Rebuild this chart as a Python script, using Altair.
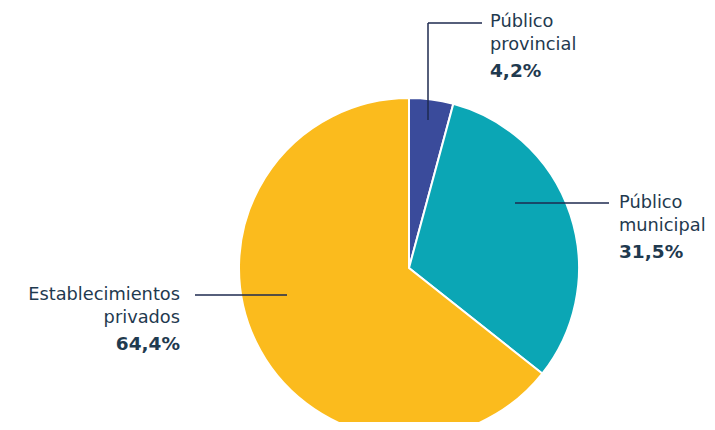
import altair as alt
import pandas as pd

categories = ["Público provincial", "Público municipal", "Establecimientos privados"]
values = [4.2, 31.5, 64.4]
name_labels = ["Público\nprovincial", "Público\nmunicipal", "Establecimientos\nprivados"]
pct_labels = ["4,2%", "31,5%", "64,4%"]
colors = ["#3a4b9b", "#0ba6b5", "#fbbb1d"]

TEXT = "#1f3a4f"
LINE = "#1e2a4f"
FONT = "DejaVu Sans"

df = pd.DataFrame({"cat": categories, "val": values, "ord": list(range(len(categories)))})

pie = alt.Chart(df).mark_arc(radius=170, stroke="white", strokeWidth=2).encode(
    theta=alt.Theta("val:Q", stack=True),
    order=alt.Order("ord:Q"),
    color=alt.Color("cat:N", scale=alt.Scale(domain=categories, range=colors), legend=None),
    x=alt.value(401),
    y=alt.value(260),
)

one = pd.DataFrame({"i": [0]})


def rule(x, x2, y, y2):
    return alt.Chart(one).mark_rule(color=LINE, strokeWidth=1.5).encode(
        x=alt.value(x), x2=alt.value(x2), y=alt.value(y), y2=alt.value(y2)
    )


def label(idx, x, y, align):
    name = alt.Chart(one).mark_text(
        align=align, baseline="middle", font=FONT, fontSize=17.8, color=TEXT,
        lineBreak="\n", lineHeight=23,
    ).encode(text=alt.value(name_labels[idx]), x=alt.value(x), y=alt.value(y))
    pct = alt.Chart(one).mark_text(
        align=align, baseline="middle", font=FONT, fontSize=18.5, fontWeight="bold", color=TEXT,
    ).encode(text=alt.value(pct_labels[idx]), x=alt.value(x), y=alt.value(y + 49))
    return name + pct


chart = alt.layer(
    pie,
    rule(420, 420, 112, 15),
    rule(420, 474, 15, 15),
    label(0, 482, 14, "left"),
    rule(507, 601, 195, 195),
    label(1, 611, 195, "left"),
    rule(187, 279, 287, 287),
    label(2, 172, 287, "right"),
).properties(
    width=699, height=414, padding=0, autosize=alt.AutoSizeParams(type="none")
).configure_view(stroke=None)

chart.save("out.html", embed_options={"renderer": "svg", "actions": False})
